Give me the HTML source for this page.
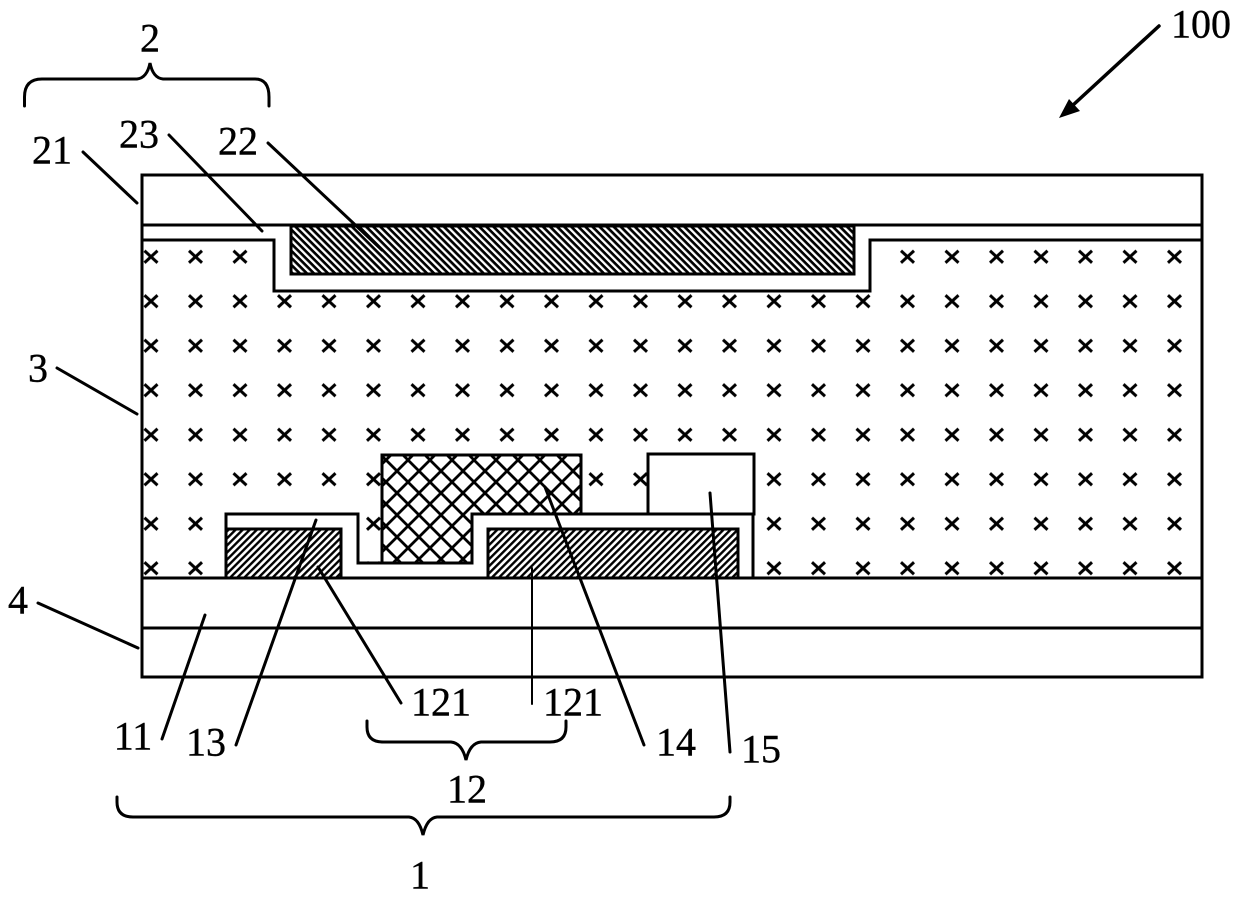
<!DOCTYPE html>
<html>
<head>
<meta charset="utf-8">
<style>
html,body{margin:0;padding:0;background:#fff;width:1240px;height:899px;overflow:hidden}
svg{display:block}
text{font-family:"Liberation Serif",serif;font-size:40px;fill:#000;stroke:#000;stroke-width:.4;text-anchor:middle;dominant-baseline:central}
</style>
</head>
<body>
<svg width="1240" height="899" viewBox="0 0 1240 899" xmlns="http://www.w3.org/2000/svg">
<defs>
<pattern id="x" patternUnits="userSpaceOnUse" x="129" y="234.75" width="44.5" height="44.5">
<path d="M15.5 16L28.5 28M28.5 16L15.5 28" stroke="#000" stroke-width="3" fill="none"/>
</pattern>
<pattern id="hb" patternUnits="userSpaceOnUse" width="5" height="5" patternTransform="rotate(45)">
<rect width="5" height="5" fill="#fff"/>
<rect x="0" width="5" height="2.7" fill="#000"/>
</pattern>
<pattern id="hf" patternUnits="userSpaceOnUse" width="5" height="5" patternTransform="rotate(-45)">
<rect width="5" height="5" fill="#fff"/>
<rect x="0" width="5" height="2.4" fill="#000"/>
</pattern>
<pattern id="xh" patternUnits="userSpaceOnUse" width="22" height="22" x="386" y="460">
<path d="M-2 -2L24 24M24 -2L-2 24" stroke="#000" stroke-width="2.8" fill="none"/>
</pattern>
</defs>

<rect x="142" y="175" width="1060" height="502" fill="#fff"/>
<rect x="143" y="240" width="1058" height="338" fill="url(#x)"/>

<!-- layer 23 -->
<path d="M142 225H1202V240H870V291H274V240H142Z" fill="#fff"/>
<path d="M142 240H274V291H870V240H1202" fill="none" stroke="#000" stroke-width="3"/>
<!-- electrode 22 -->
<rect x="291" y="226" width="563" height="48" fill="url(#hb)" stroke="#000" stroke-width="3"/>

<!-- layer 13 -->
<path d="M226 578V514H358V563H472V514H753V578Z" fill="#fff" stroke="#000" stroke-width="3"/>
<!-- 121 electrodes -->
<rect x="226" y="529" width="115" height="49" fill="url(#hf)" stroke="#000" stroke-width="3"/>
<rect x="488" y="529" width="250" height="49" fill="url(#hf)" stroke="#000" stroke-width="3"/>
<!-- 14 -->
<path d="M382 455H581V514H472V563H382Z" fill="#fff"/>
<path d="M382 455H581V514H472V563H382Z" fill="url(#xh)" stroke="#000" stroke-width="3"/>
<!-- 15 -->
<rect x="648" y="454" width="106" height="60" fill="#fff" stroke="#000" stroke-width="3"/>

<!-- main frame -->
<rect x="142" y="175" width="1060" height="502" fill="none" stroke="#000" stroke-width="3"/>
<path d="M142 225H1202M142 578H1202M142 628H1202" stroke="#000" stroke-width="3" fill="none"/>

<!-- leaders -->
<g stroke="#000" stroke-width="3" fill="none" stroke-linecap="round">
<path d="M83 152L137 203"/>
<path d="M169 135L262 231"/>
<path d="M268 143L382 250"/>
<path d="M57 368L137 414"/>
<path d="M38 603L138 648"/>
<path d="M162 739L205 615"/>
<path d="M316 520L236 745"/>
<path d="M318 567L401 703"/>
<path d="M532 568V704" stroke-width="2"/>
<path d="M545 487L644 745"/>
<path d="M710 493L730 752"/>
<path d="M1159 26L1072 106" stroke-width="3.5"/>
</g>
<path d="M1059 118L1069 99L1080 111Z" fill="#000"/>

<!-- braces -->
<g stroke="#000" stroke-width="3" fill="none" stroke-linecap="round">
<path d="M24.5 106V97Q24.5 79 42 79H137Q147 78 150 63Q153 78 163 79H255Q269 79 269 97V106"/>
<path d="M367 721V727Q367 742 383 742H451Q462 743 466 760Q470 743 481 742H550Q566 742 566 727V721"/>
<path d="M117 797V802Q117 817 133 817H409Q419 818 423 835Q427 818 437 817H714Q730 817 730 802V797"/>
</g>

<!-- labels -->
<text x="150" y="38">2</text>
<text x="52" y="150">21</text>
<text x="139" y="134">23</text>
<text x="238" y="141">22</text>
<text x="38" y="368">3</text>
<text x="18" y="600">4</text>
<text x="133" y="736">11</text>
<text x="206" y="742">13</text>
<text x="441" y="702">121</text>
<text x="573" y="702">121</text>
<text x="676" y="742">14</text>
<text x="761" y="749">15</text>
<text x="467" y="789">12</text>
<text x="420" y="875">1</text>
<text x="1201" y="24">100</text>
</svg>
</body>
</html>
